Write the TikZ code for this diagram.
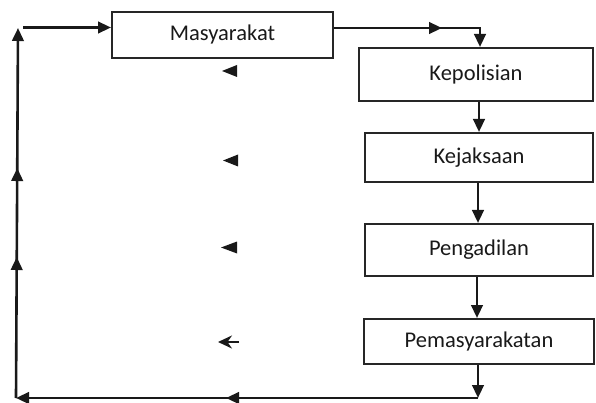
\documentclass[tikz,border=0pt]{standalone}
\usepackage{fontspec}
\setmainfont{Carlito}
\usetikzlibrary{arrows.meta,decorations.markings}
\newcommand{\tritip}{\arrow{Triangle[length=13pt,width=11.5pt]}}
\begin{document}
\begin{tikzpicture}[x=1pt,y=-1pt,
  box/.style={draw=black!85, line width=2pt, inner sep=0pt, text=black!90,
    font=\fontsize{22.5}{26}\selectfont},
  conn/.style={draw=black!90, line width=2.6pt},
  tipend/.style={-{Triangle[length=13pt,width=11.5pt]}},
  markone/.style={postaction={decorate}, decoration={markings,
    mark=at position #1 with {\tritip}}},
  marktwo/.style 2 args={postaction={decorate}, decoration={markings,
    mark=at position #1 with {\tritip}, mark=at position #2 with {\tritip}}}]
\useasboundingbox (0,0) rectangle (596,403);

\node[box, minimum width=221pt, minimum height=46pt] (mas) at (222.5,35) {Masyarakat};
\node[box, minimum width=234pt, minimum height=53pt] (kep) at (476,74.5) {Kepolisian};
\node[box, minimum width=228pt, minimum height=49pt] (kej) at (479,157.5) {Kejaksaan};
\node[box, minimum width=228pt, minimum height=52pt] (pen) at (479,250) {Pengadilan};
\node[box, minimum width=230pt, minimum height=45pt] (pem) at (479,341.5) {Pemasyarakatan};

\coordinate (tr) at (480,28);
\coordinate (br) at (478,398);
\coordinate (bl) at (16,398);
\coordinate (tlv) at (18,28);
\coordinate (tlh) at (23,27.5);

% top: left stub into Masyarakat
\draw[conn, tipend] (tlh) -- (mas.west |- tlh);
% Masyarakat to Kepolisian
\draw[conn, tipend, markone=108pt] (mas.east |- tr) -- (tr) -- (tr |- kep.north);
% chain down
\draw[conn, tipend] (kep.south -| 479,0) -- (kej.north -| 479,0);
\draw[conn, tipend] (kej.south -| 478,0) -- (pen.north -| 478,0);
\draw[conn, tipend] (pen.south -| 477,0) -- (pem.north -| 477,0);
\draw[conn, tipend] (pem.south -| br) -- (br);
% bottom return line
\draw[conn, tipend, markone=252pt] (br) -- (bl);
% left return line upwards
\draw[conn, tipend, marktwo={141pt}{230pt}] (bl) -- (tlv);

% floating arrowheads
\fill[black!90] (222,71) -- (237,65) -- (237,77) -- cycle;
\fill[black!90] (223,160.5) -- (238,154.5) -- (238,166.5) -- cycle;
\fill[black!90] (221,247.5) -- (237,241.5) -- (237,253.5) -- cycle;
\draw[conn, -{Stealth[length=14pt,width=13pt]}] (239,342) -- (218,342);
\end{tikzpicture}
\end{document}
